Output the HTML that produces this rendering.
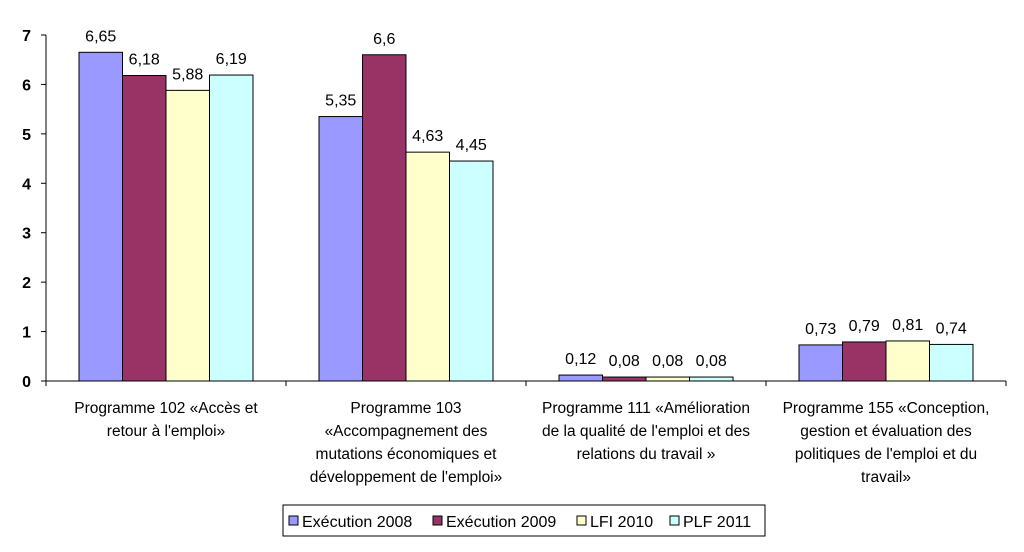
<!DOCTYPE html>
<html><head><meta charset="utf-8"><style>
body{margin:0;background:#fff;width:1024px;height:547px;overflow:hidden;font-family:"Liberation Sans",Arial,sans-serif}
</style></head><body>
<svg width="1024" height="547" xmlns="http://www.w3.org/2000/svg" id="chart" font-family="Liberation Sans, Arial, sans-serif"></svg>
<script>
const categories=[["Programme 102 «Accès et","retour à l'emploi»"],["Programme 103","«Accompagnement des","mutations économiques et","développement de l'emploi»"],["Programme 111 «Amélioration","de la qualité de l'emploi et des","relations du travail »"],["Programme 155 «Conception,","gestion et évaluation des","politiques de l'emploi et du","travail»"]];
const seriesNames=["Exécution 2008","Exécution 2009","LFI 2010","PLF 2011"];
const exec2008=[6.65,5.35,0.12,0.73];
const exec2009=[6.18,6.6,0.08,0.79];
const lfi2010=[5.88,4.63,0.08,0.81];
const plf2011=[6.19,4.45,0.08,0.74];
const yTicks=[0,1,2,3,4,5,6,7];
const colors=["#9999ff","#993366","#ffffcc","#ccffff"];
const series=[exec2008,exec2009,lfi2010,plf2011];
const svg=document.getElementById('chart');const NS="http://www.w3.org/2000/svg";
function mk(t,a,p){const e=document.createElementNS(NS,t);for(const k in a)e.setAttribute(k,a[k]);(p||svg).appendChild(e);return e;}
const x0=46,x1=1006,yBase=381,yTop=35,ymax=7;
const y=v=>yBase-(v/ymax)*(yBase-yTop);
const cw=(x1-x0)/categories.length,bw=43.5,off=33;
yTicks.forEach(t=>{const l=mk('line',{x1:41,x2:46,y1:y(t),y2:y(t),stroke:'#000'});

const tx=mk('text',{x:31,y:y(t)+6,'text-anchor':'end','font-size':16,'font-weight':'bold'});tx.textContent=t;
});
for(let i=0;i<=categories.length;i++){const l=mk('line',{x1:x0+i*cw,x2:x0+i*cw,y1:yBase,y2:yBase+5,stroke:'#000'});
}
series.forEach((s,si)=>s.forEach((v,ci)=>{const bx=x0+ci*cw+off+si*bw;
const r=mk('rect',{x:bx,y:y(v),width:bw,height:yBase-y(v),fill:colors[si],stroke:'#000','stroke-width':1});

const t=mk('text',{x:bx+bw/2,y:y(v)-11,'text-anchor':'middle','font-size':16});t.textContent=String(v).replace('.',',');
}));
const ax=mk('path',{d:`M46 ${yTop} V${yBase} H${x1}`,stroke:'#000',fill:'none'});

categories.forEach((lines,ci)=>{lines.forEach((ln,li)=>{const t=mk('text',{x:x0+ci*cw+cw/2,y:413+li*23,'text-anchor':'middle','font-size':15.5});t.textContent=ln;
});});
const lg=mk('rect',{x:283,y:505,width:482,height:31,fill:'#fff',stroke:'#000'});

const lx=[289,433,577,670];
seriesNames.forEach((n,i)=>{const r=mk('rect',{x:lx[i],y:516,width:9,height:9,fill:colors[i],stroke:'#000'});

const t=mk('text',{x:lx[i]+13,y:527,'font-size':16});t.textContent=n;
});
</script>
</body></html>
